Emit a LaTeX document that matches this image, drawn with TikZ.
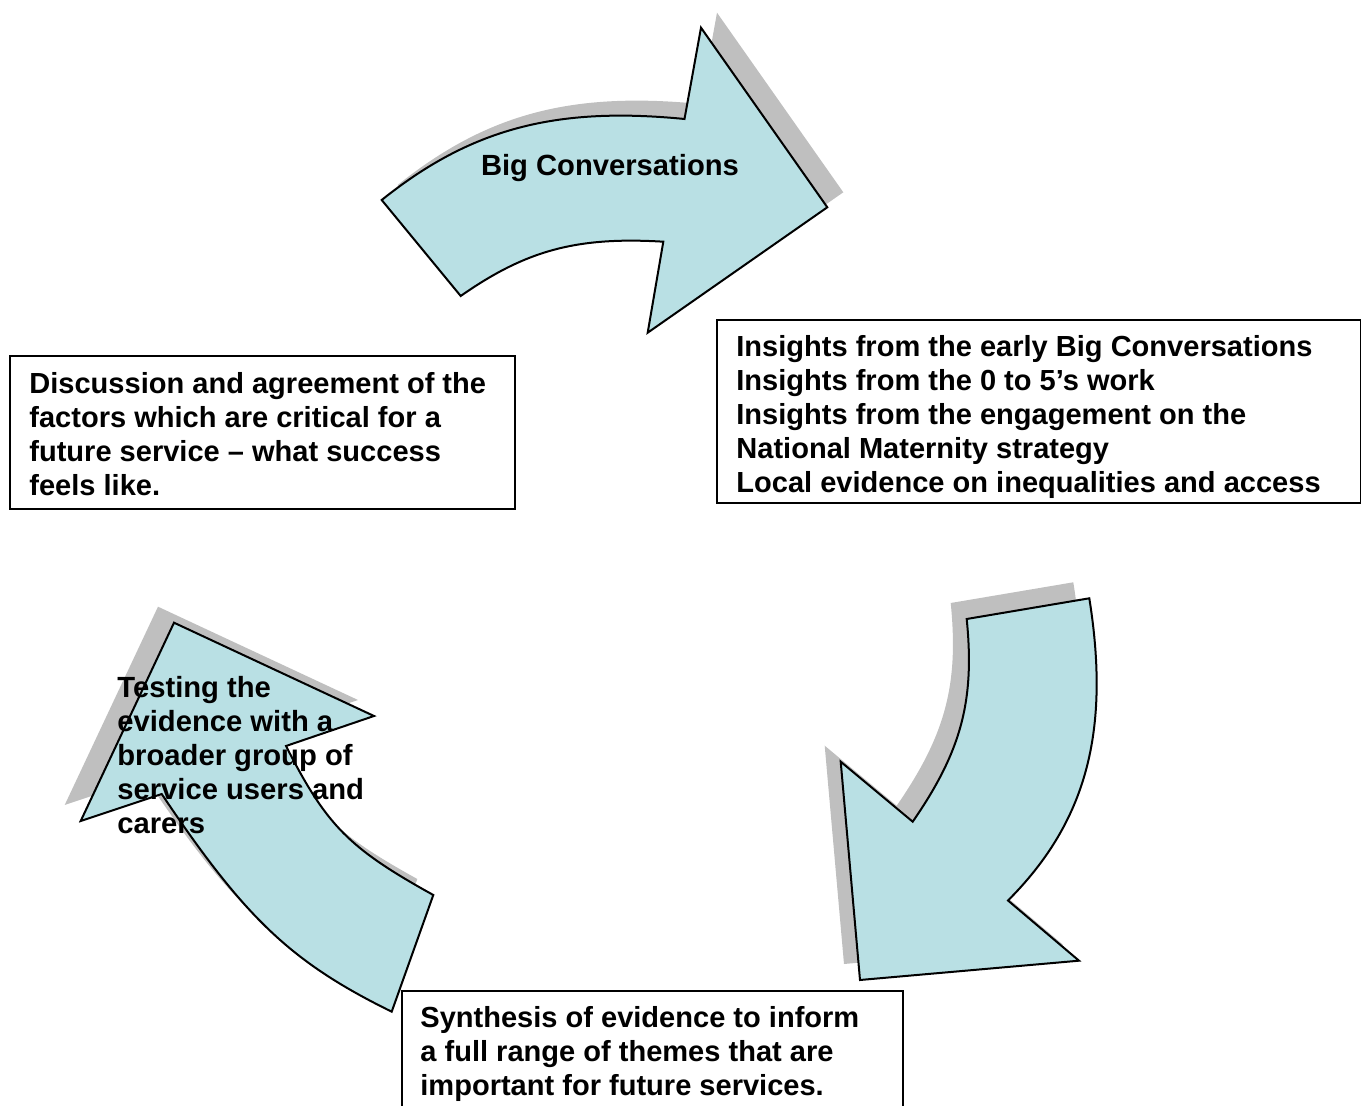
\documentclass[tikz,border=0pt]{standalone}
\usepackage{fontspec}
\setmainfont{Liberation Sans}
\usetikzlibrary{calc}

\definecolor{arrowblue}{RGB}{185,224,228}
\definecolor{shadowgrey}{RGB}{191,191,191}

\newcommand{\arrowfont}{\fontsize{14.6}{17}\selectfont\bfseries}
\newcommand{\boxfont}{\fontsize{14.52}{17}\selectfont\bfseries}

% curved block arrow with a grey copy behind it
\newcommand{\shadedarrow}[2]{%
  \fill[arrowshadow, shift={#1}] #2;
  \filldraw[arrowbody] #2;}

\tikzset{
  arrowbody/.style={fill=arrowblue, draw=black, line width=1pt, line join=miter},
  arrowshadow/.style={fill=shadowgrey},
  boxframe/.style={draw=black, fill=white, line width=1pt, anchor=north west, inner sep=0pt},
  boxtext/.style={font=\boxfont, align=left, anchor=north west, inner sep=0pt},
  arrowtext/.style={font=\arrowfont, align=left, inner sep=0pt}
}

\begin{document}
\begin{tikzpicture}[x=0.5pt, y=-0.5pt]

  \useasboundingbox (0,0) rectangle (1361,1106);
  \clip (0,0) rectangle (1361,1106);

  % Arrows of the cycle
  \shadedarrow{(16,-15)}{(381.7,200) .. controls (470.8,128.7) and (555.3,106.3) .. (684.5,119)
    -- (701,27.7) -- (827.3,207.3) -- (647.7,332.7) -- (663.3,241.7)
    .. controls (577,236.5) and (526.3,250.1) .. (460.7,296) -- cycle}

  \shadedarrow{(-16,-16)}{(966.7,619) -- (1089.3,598.3)
    .. controls (1110.6,731.4) and (1086.4,822) .. (1008,900.5)
    -- (1079,960.7) -- (860,980) -- (840.7,761.7) -- (912.7,821.7)
    .. controls (961.4,751.2) and (974.9,700.5) .. (966.7,619) -- cycle}

  \shadedarrow{(-16,-16)}{(433.3,895) -- (391.7,1011.7)
    .. controls (291.3,962.3) and (245.3,918.7) .. (161.7,794)
    -- (80.7,821) -- (174,622.7) -- (374,716) -- (286,746)
    .. controls (326.7,825.8) and (348.9,848.2) .. (433.3,895) -- cycle}

  % Text on the arrows
  \node[arrowtext, anchor=base] (bigconv) at (610,176) {Big Conversations};
  \node[arrowtext, anchor=north west] (testing) at (117,676)
    {Testing the\\evidence with a\\broader group of\\service users and\\carers};

  % Boxes
  \node[boxframe, minimum width=322pt, minimum height=91.5pt] (insightsframe) at (716,319) {};
  \node[boxtext] (insights) at ($(insightsframe.north west)+(20,16)$)
    {Insights from the early Big Conversations\\
     Insights from the 0 to 5’s work\\
     Insights from the engagement on the\\
     National Maternity strategy\\
     Local evidence on inequalities and access};

  \node[boxframe, minimum width=252.5pt, minimum height=76.5pt] (discussionframe) at (9,355) {};
  \node[boxtext] (discussion) at ($(discussionframe.north west)+(20,17)$)
    {Discussion and agreement of the\\
     factors which are critical for a\\
     future service -- what success\\
     feels like.};

  \node[boxframe, minimum width=250.5pt, minimum height=70pt] (synthesisframe) at (401,990) {};
  \node[boxtext] (synthesis) at ($(synthesisframe.north west)+(19,16)$)
    {Synthesis of evidence to inform\\
     a full range of themes that are\\
     important for future services.};

\end{tikzpicture}
\end{document}
